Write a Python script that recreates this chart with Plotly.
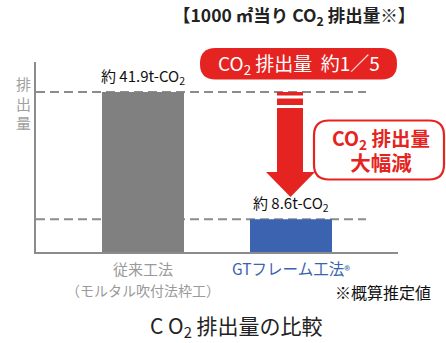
import plotly.graph_objects as go

categories = ["従来工法", "GTフレーム工法"]
values = [41.9, 8.6]
bar_colors = ["#808080", "#3b63b0"]
value_labels = ["約 41.9t-CO<sub>2</sub>", "約 8.6t-CO<sub>2</sub>"]
tick_line1 = ["従来工法", "GTフレーム工法<span style='font-size:12px'>®</span>"]
tick_line2 = ["（モルタル吹付法枠工）", ""]
tick_colors = ["#9a9a9a", "#3b63b0"]

FONT = "Noto Sans CJK JP"
W, H = 446, 343
L, R, T, B = 36, 398, 62, 252


def px(x):
    return (x - L) / (R - L)


def py(y):
    return (B - y) / (B - T)


xpos = list(range(len(categories)))

fig = go.Figure()
fig.add_trace(go.Bar(
    x=xpos, y=values, marker=dict(color=bar_colors, line=dict(width=0)),
    width=0.554, hoverinfo="skip",
))

shapes = []
# dashed reference lines at each bar value
for v in values:
    shapes.append(dict(type="line", xref="x", yref="y", x0=-0.723, x1=1.507,
                       y0=v, y1=v, line=dict(color="#8c8c8c", width=2, dash="9px,5px"),
                       layer="below"))

red = "#e52421"
# arrow stripes and shaft
for (y0, y1) in [(92, 95.5), (98.5, 105), (108, 173)]:
    shapes.append(dict(type="rect", xref="paper", yref="paper",
                       x0=px(277), x1=px(303), y0=py(y1), y1=py(y0),
                       fillcolor=red, line=dict(width=0)))
shapes.append(dict(type="path", xref="paper", yref="paper",
                   path=f"M {px(266)} {py(172)} L {px(315)} {py(172)} L {px(290.5)} {py(197)} Z",
                   fillcolor=red, line=dict(width=0)))


def rounded(x0, y0, x1, y1, r):
    return (f"M {px(x0 + r)} {py(y0)} L {px(x1 - r)} {py(y0)} "
            f"Q {px(x1)} {py(y0)} {px(x1)} {py(y0 + r)} "
            f"L {px(x1)} {py(y1 - r)} Q {px(x1)} {py(y1)} {px(x1 - r)} {py(y1)} "
            f"L {px(x0 + r)} {py(y1)} Q {px(x0)} {py(y1)} {px(x0)} {py(y1 - r)} "
            f"L {px(x0)} {py(y0 + r)} Q {px(x0)} {py(y0)} {px(x0 + r)} {py(y0)} Z")


# red pill
shapes.append(dict(type="path", xref="paper", yref="paper",
                   path=rounded(200, 48, 397, 79.5, 15.5),
                   fillcolor=red, line=dict(width=0)))
# outlined rounded box
shapes.append(dict(type="path", xref="paper", yref="paper",
                   path=rounded(314, 120.5, 444, 179.5, 15),
                   fillcolor="white", line=dict(color=red, width=2.2)))


def note(x, y, text, size, color, xref="paper"):
    return dict(x=x, y=y, xref=xref, yref="paper", text=text, showarrow=False,
                xanchor="center", yanchor="middle",
                font=dict(family=FONT, size=size, color=color))


ann = []
for i, (v, lab) in enumerate(zip(values, value_labels)):
    ann.append(dict(x=i, y=v, xref="x", yref="y", text=lab, showarrow=False,
                    xanchor="center", yanchor="bottom", yshift=2,
                    font=dict(family=FONT, size=15, color="#111")))
for i in range(len(categories)):
    ann.append(note(i, py(268), tick_line1[i], 15.5 if i else 15, tick_colors[i], xref="x"))
    if tick_line2[i]:
        ann.append(note(i, py(290), tick_line2[i], 14, tick_colors[i], xref="x"))

ann += [
    note(px(294), py(16), "<b>【1000 ㎡当り CO<sub>2</sub> 排出量※】</b>", 17.5, "#222"),
    note(px(298.5), py(63.5), "CO<sub>2</sub> 排出量\u00a0\u00a0約1／5", 19, "white"),
    note(px(381), py(149.5),
         "<b>CO<sub>2</sub> 排出量</b><br><span style='font-size:20.5px'><b>大幅減</b></span>",
         19.5, red),
    note(px(383), py(292), "※概算推定値", 16, "#111"),
    note(px(236), py(326), "C O<sub>2</sub> 排出量の比較", 21, "#222"),
    note(px(23), py(103), "排<br>出<br>量", 15, "#a0a0a0"),
]

fig.update_layout(
    width=W, height=H, margin=dict(l=L, r=W - R, t=T, b=H - B),
    paper_bgcolor="white", plot_bgcolor="white", showlegend=False,
    shapes=shapes, annotations=ann,
    xaxis=dict(range=[-0.723, 1.723], showticklabels=False, showgrid=False,
               zeroline=False, showline=True, linecolor="#8c8c8c", linewidth=1.5,
               fixedrange=True),
    yaxis=dict(range=[0, 49.75], showticklabels=False, showgrid=False,
               zeroline=False, showline=True, linecolor="#8c8c8c", linewidth=1.5,
               fixedrange=True),
)

fig.write_html("out.html", config={"displayModeBar": False})
